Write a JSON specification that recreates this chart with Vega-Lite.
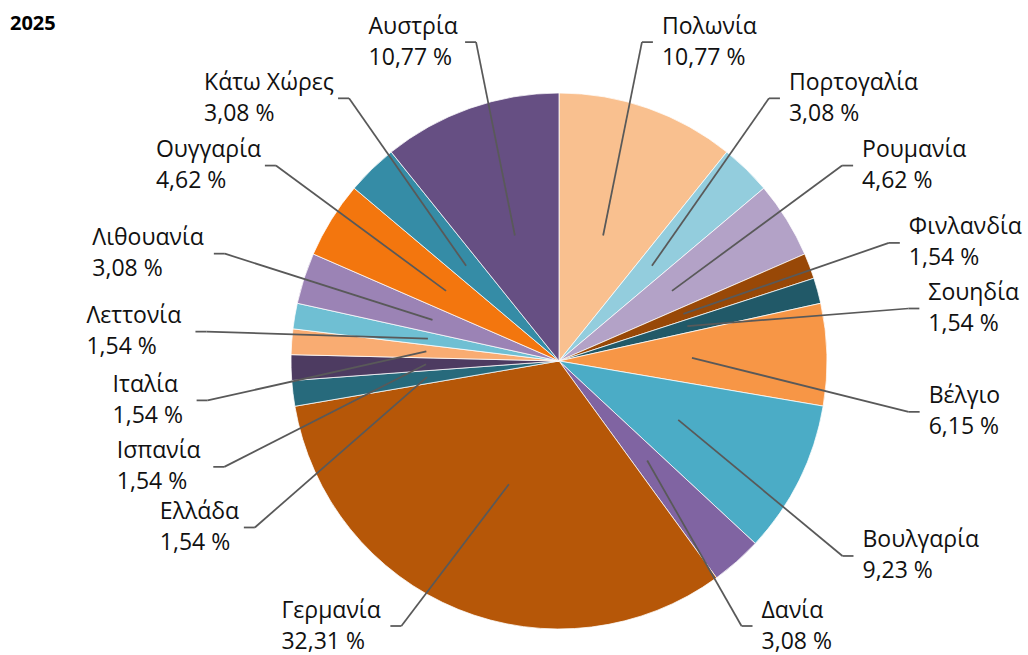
{
  "$schema": "https://vega.github.io/schema/vega-lite/v6.json",
  "width": 938,
  "height": 588,
  "autosize": {"type": "none"},
  "padding": {"left": 90, "top": 67, "right": 0, "bottom": 0},
  "background": "white",
  "title": {"text": "2025", "anchor": "start", "frame": "group", "font": "Open Sans", "fontSize": 20, "fontWeight": "bold", "color": "#000000", "dx": -80, "dy": 18, "offset": 0},
  "config": {"view": {"stroke": null}},
  "data": {"values": [
    {"country": "Πολωνία", "value": 10.77, "order": 1},
    {"country": "Πορτογαλία", "value": 3.08, "order": 2},
    {"country": "Ρουμανία", "value": 4.62, "order": 3},
    {"country": "Φινλανδία", "value": 1.54, "order": 4},
    {"country": "Σουηδία", "value": 1.54, "order": 5},
    {"country": "Βέλγιο", "value": 6.15, "order": 6},
    {"country": "Βουλγαρία", "value": 9.23, "order": 7},
    {"country": "Δανία", "value": 3.08, "order": 8},
    {"country": "Γερμανία", "value": 32.31, "order": 9},
    {"country": "Ελλάδα", "value": 1.54, "order": 10},
    {"country": "Ισπανία", "value": 1.54, "order": 11},
    {"country": "Ιταλία", "value": 1.54, "order": 12},
    {"country": "Λεττονία", "value": 1.54, "order": 13},
    {"country": "Λιθουανία", "value": 3.08, "order": 14},
    {"country": "Ουγγαρία", "value": 4.62, "order": 15},
    {"country": "Κάτω Χώρες", "value": 3.08, "order": 16},
    {"country": "Αυστρία", "value": 10.77, "order": 17}
  ]},
  "transform": [
    {"window": [{"op": "sum", "field": "value", "as": "cum"}, {"op": "row_number", "as": "idx"}], "sort": [{"field": "order", "order": "ascending"}], "frame": [null, 0]},
    {"joinaggregate": [{"op": "sum", "field": "value", "as": "total"}, {"op": "count", "as": "n"}]},
    {"calculate": "datum.cum - datum.value / 2", "as": "mid"},
    {"calculate": "2 * PI * datum.mid / datum.total", "as": "midA"},
    {"calculate": "2 * PI * (datum.mid + 3 * (datum.idx - 0.5)) / (datum.total + 3 * datum.n)", "as": "labA"},
    {"calculate": "1 / sqrt(pow(sin(datum.labA) / 365, 2) + pow(cos(datum.labA) / 330, 2))", "as": "er"},
    {"calculate": "min(max(datum.er * cos(datum.labA), -265), 322)", "as": "hy"},
    {"calculate": "sin(datum.labA) >= 0 ? 1 : -1", "as": "side"},
    {"calculate": "replace(format(datum.value, '.2f'), '.', ',') + ' %'", "as": "pct"},
    {"calculate": "max(12.5 * length(datum.country), 11.5 * length(datum.pct))", "as": "w"},
    {"calculate": "abs(datum.hy) - 20 < 268 ? sqrt(268 * 268 - pow(max(abs(datum.hy) - 20, 0), 2)) + 60 : 0", "as": "clr"},
    {"calculate": "max(abs(datum.er * sin(datum.labA)), datum.clr)", "as": "hxa"},
    {"calculate": "datum.side > 0 ? min(datum.hxa, 456 - datum.w) : -datum.hxa", "as": "hx"},
    {"calculate": "datum.hx - 11 * datum.side", "as": "ex"},
    {"calculate": "133 * sin(datum.midA)", "as": "sx"},
    {"calculate": "133 * cos(datum.midA)", "as": "sy"},
    {"calculate": "datum.side > 0 ? datum.hx + 9 : datum.hx - 9 - datum.w", "as": "tx"},
    {"calculate": "datum.country + '\\n' + datum.pct", "as": "label"}
  ],
  "layer": [
    {
      "mark": {"type": "arc", "radius": 268, "stroke": "#ffffff", "strokeWidth": 0.75},
      "encoding": {
        "theta": {"field": "value", "type": "quantitative", "stack": true},
        "order": {"field": "order", "type": "quantitative"},
        "color": {"field": "country", "type": "nominal", "legend": null,
          "scale": {"domain": ["Πολωνία", "Πορτογαλία", "Ρουμανία", "Φινλανδία", "Σουηδία", "Βέλγιο", "Βουλγαρία", "Δανία", "Γερμανία", "Ελλάδα", "Ισπανία", "Ιταλία", "Λεττονία", "Λιθουανία", "Ουγγαρία", "Κάτω Χώρες", "Αυστρία"],
                    "range": ["#f9c08f", "#93cddd", "#b3a2c7", "#984807", "#215968", "#f79646", "#4bacc6", "#8064a2", "#b65708", "#276a7c", "#4d3b61", "#f9ac72", "#6fbfd3", "#9b83b5", "#f3760e", "#358ca6", "#664f83"]}}
      }
    },
    {
      "mark": {"type": "rule", "color": "#595959", "strokeWidth": 1.75},
      "encoding": {
        "x": {"field": "sx", "type": "quantitative", "axis": null, "scale": {"domain": [-469, 469], "nice": false, "zero": false}},
        "y": {"field": "sy", "type": "quantitative", "axis": null, "scale": {"domain": [-294, 294], "nice": false, "zero": false}},
        "x2": {"field": "ex"},
        "y2": {"field": "hy"}
      }
    },
    {
      "mark": {"type": "rule", "color": "#595959", "strokeWidth": 1.75},
      "encoding": {
        "x": {"field": "ex", "type": "quantitative", "axis": null, "scale": {"domain": [-469, 469], "nice": false, "zero": false}},
        "y": {"field": "hy", "type": "quantitative", "axis": null, "scale": {"domain": [-294, 294], "nice": false, "zero": false}},
        "x2": {"field": "hx"}
      }
    },
    {
      "mark": {"type": "text", "align": "left", "baseline": "middle", "dy": -15.5, "lineBreak": "\n", "font": "Open Sans", "fontSize": 23, "lineHeight": 31, "color": "#111111"},
      "encoding": {
        "x": {"field": "tx", "type": "quantitative", "axis": null, "scale": {"domain": [-469, 469], "nice": false, "zero": false}},
        "y": {"field": "hy", "type": "quantitative", "axis": null, "scale": {"domain": [-294, 294], "nice": false, "zero": false}},
        "text": {"field": "label"}
      }
    }
  ]
}
